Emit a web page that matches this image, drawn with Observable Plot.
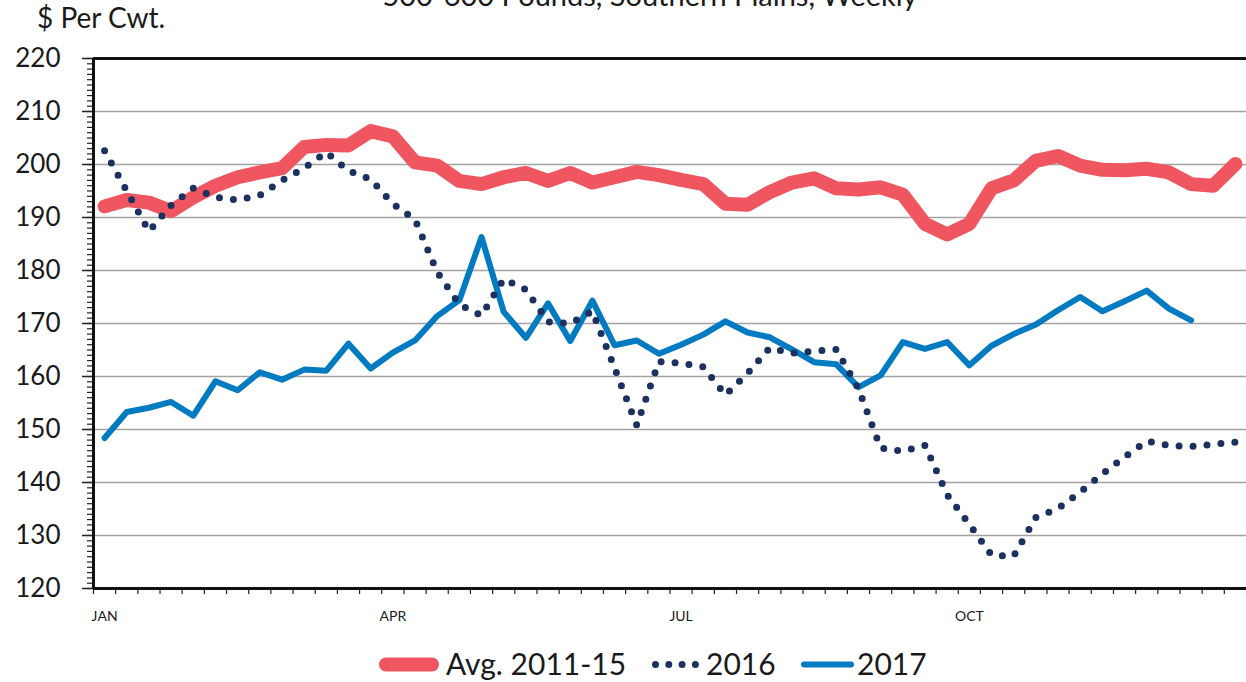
<!DOCTYPE html>
<html><head><meta charset="utf-8">
<script src="https://cdn.jsdelivr.net/npm/d3@7"></script>
<script src="https://cdn.jsdelivr.net/npm/@observablehq/plot@0.6"></script>
<style>
body{margin:0;background:#fff;font-family:Lato,sans-serif;}
#wrap{position:relative;width:1246px;height:682px;overflow:hidden;background:#fff;}
#chart{position:absolute;left:0;top:0;}
#legend{position:absolute;left:0;top:640px;}
</style></head><body>
<div id="wrap"><div id="chart"></div><div id="legend"></div></div>
<script>
const title = "500-600 Pounds, Southern Plains, Weekly";
const yLabel = "$ Per Cwt.";
const seriesNames = ["Avg. 2011-15", "2016", "2017"];
const monthLabels = ["JAN", "APR", "JUL", "OCT"];
const monthWeeks = [1, 14, 27, 40];
const weeks = d3.range(1, 53);
const avg2011_15 = [192.1,193.3,192.8,191.2,193.8,196.0,197.6,198.5,199.3,203.3,
  203.7,203.6,206.3,205.3,200.4,199.8,196.9,196.3,197.6,198.4,
  196.9,198.4,196.6,197.6,198.6,198.0,197.1,196.3,192.6,192.4,
  194.8,196.6,197.4,195.5,195.3,195.7,194.3,188.8,186.8,188.8,
  195.5,197.0,200.7,201.6,199.8,199.0,198.9,199.2,198.5,196.3,
  196.0,200.1];
const y2016 = [202.6,195.0,187.4,192.3,195.5,193.8,193.3,194.2,197.0,199.3,
  202.3,198.8,197.2,192.6,189.6,179.7,173.6,171.5,178.4,176.4,
  170.3,170.0,172.3,161.6,150.8,162.8,162.5,161.8,156.5,160.6,
  165.4,164.4,164.8,165.1,157.7,146.5,145.9,147.0,137.7,132.1,
  126.3,126.1,133.4,135.1,138.2,141.6,144.8,147.8,147.0,146.8,
  147.2,147.6];
const y2017 = [148.4,153.3,154.1,155.2,152.6,159.1,157.4,160.8,159.4,161.3,
  161.1,166.2,161.5,164.5,166.8,171.4,174.4,186.3,172.2,167.3,
  173.8,166.7,174.3,165.9,166.8,164.3,166.0,167.9,170.4,168.3,
  167.4,165.1,162.7,162.3,158.0,160.2,166.5,165.2,166.5,162.1,
  165.8,168.0,169.8,172.5,175.0,172.3,174.2,176.2,172.8,170.6];
const yMajor = d3.range(120, 221, 10);
const yMinor = d3.range(120, 221, 1);
const weekEdges = d3.range(0.5, 53, 1);

const rows = weeks.map((w, i) => ({week: w, avg: avg2011_15[i], v2016: y2016[i], v2017: y2017[i]}));

const RED = "#ef5660", NAVY = "#1c315f", BLUE = "#007ac1";

const plot = Plot.plot({
  width: 1246, height: 640,
  marginLeft: 93, marginRight: 0, marginTop: 58, marginBottom: 52,
  style: {fontFamily: "Lato, sans-serif", color: "#1a1a1a", background: "#fff"},
  x: {domain: [0.5, 52.5], label: null},
  y: {domain: [120, 220], label: null},
  marks: [
    Plot.gridY(yMajor.filter(d => d > 120 && d < 220), {stroke: "#a3a3a3", strokeOpacity: 1, strokeWidth: 1.5}),
    Plot.axisY({ticks: yMinor, tickSize: 6, tickFormat: () => "", label: null, stroke: "#222", strokeWidth: 1.2}),
    Plot.axisY({ticks: yMajor, tickSize: 11, tickPadding: 22, fontSize: 26, label: null, tickFormat: d => String(d), stroke: "#222", strokeWidth: 1.5}),
    Plot.axisX({ticks: weekEdges, tickSize: 6, tickFormat: () => "", label: null, stroke: "#222", strokeWidth: 1.2}),
    Plot.axisX({ticks: monthWeeks, tickSize: 0, tickPadding: 23, fontSize: 14, label: null, tickFormat: d => monthLabels[monthWeeks.indexOf(d)]}),
    Plot.ruleY([220], {stroke: "#111", strokeWidth: 3}),
    Plot.ruleY([120], {stroke: "#111", strokeWidth: 3}),
    Plot.ruleX([0.5], {stroke: "#111", strokeWidth: 3}),
    Plot.line(rows, {x: "week", y: "avg", stroke: RED, strokeWidth: 14, strokeLinejoin: "round", strokeLinecap: "round"}),
    Plot.line(rows, {x: "week", y: "v2017", stroke: BLUE, strokeWidth: 6, strokeLinejoin: "round", strokeLinecap: "round"}),
    Plot.line(rows, {x: "week", y: "v2016", stroke: NAVY, strokeWidth: 7, strokeDasharray: "0 14", strokeLinecap: "round", strokeLinejoin: "round"})
  ]
});
document.getElementById("chart").appendChild(plot);

const svg = d3.select(plot);
svg.append("text").attr("x", 650).attr("y", 6).attr("text-anchor", "middle")
  .attr("font-size", 29).attr("fill", "#1a1a1a").text(title);
svg.append("text").attr("x", 37).attr("y", 28).attr("text-anchor", "start")
  .attr("font-size", 28).attr("fill", "#1a1a1a").text(yLabel);

const lg = d3.select("#legend").append("svg").attr("width", 1246).attr("height", 42)
  .style("font-family", "Lato, sans-serif");
const cy = 24.5, by = 35;
lg.append("line").attr("x1", 386).attr("x2", 432).attr("y1", cy).attr("y2", cy)
  .attr("stroke", RED).attr("stroke-width", 14).attr("stroke-linecap", "round");
lg.append("text").attr("x", 446).attr("y", by).attr("font-size", 30).attr("fill", "#1a1a1a").text(seriesNames[0]);
lg.append("line").attr("x1", 655.5).attr("x2", 697).attr("y1", cy).attr("y2", cy)
  .attr("stroke", NAVY).attr("stroke-width", 7).attr("stroke-linecap", "round").attr("stroke-dasharray", "0 13.3");
lg.append("text").attr("x", 706).attr("y", by).attr("font-size", 30).attr("fill", "#1a1a1a").text(seriesNames[1]);
lg.append("line").attr("x1", 804).attr("x2", 851).attr("y1", cy).attr("y2", cy)
  .attr("stroke", BLUE).attr("stroke-width", 6).attr("stroke-linecap", "round");
lg.append("text").attr("x", 857).attr("y", by).attr("font-size", 30).attr("fill", "#1a1a1a").text(seriesNames[2]);
</script>
</body></html>
